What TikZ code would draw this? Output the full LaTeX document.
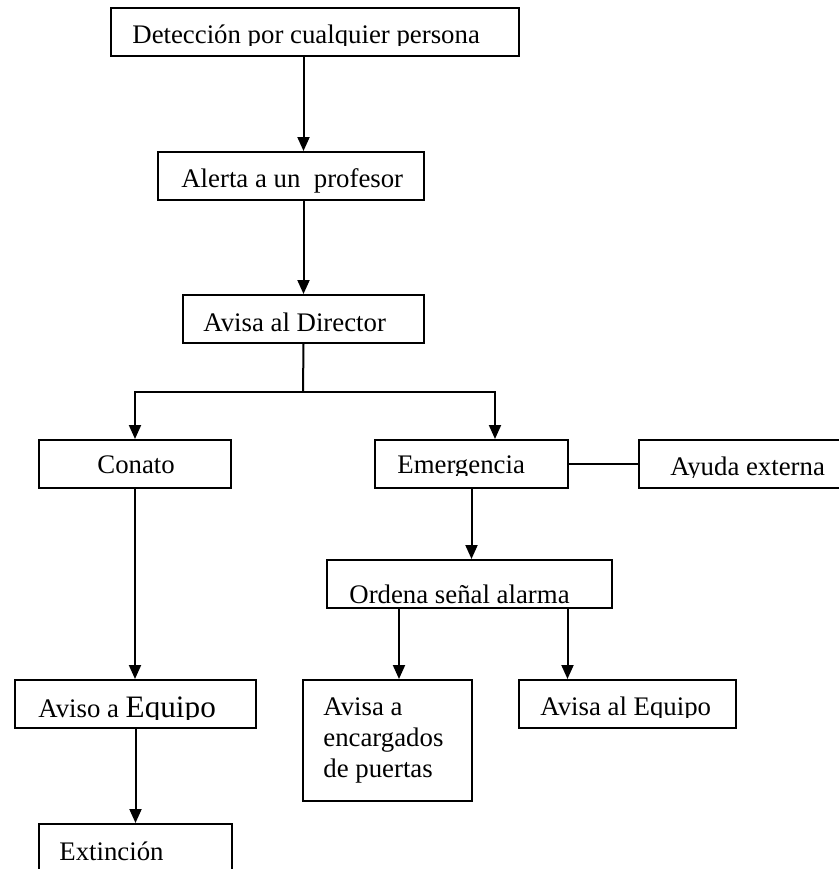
\documentclass[tikz,border=0pt]{standalone}
\usepackage{fontspec}
\setmainfont{Liberation Serif}
\usetikzlibrary{arrows.meta}
\usetikzlibrary{positioning}

\tikzset{
  box/.style={draw, line width=1pt, inner sep=0pt, minimum height=24pt},
  lbl/.style={inner sep=0pt, anchor=base west, font=\fontsize{13.4}{15.5}\selectfont},
  arr/.style={line width=1pt, -{Triangle[length=7pt,width=6pt]}},
  link/.style={line width=1pt},
}

% label whose descenders are cut off at the baseline
\newcommand{\cutlabel}[4]{%
  \begin{scope}
    \clip (#2-5,#3-40) rectangle (#2+420,#3+2);
    \node[lbl] (#1) at (#2,#3) {#4};
  \end{scope}}

\begin{document}
\begin{tikzpicture}[x=0.5pt, y=-0.5pt]
    \useasboundingbox (0,0) rectangle (839,869);
    \clip (0,0) rectangle (839,869);

    \node[box, minimum width=204pt] (detect) at (315,32) {};
    \node[box, minimum width=133pt] (alert) at (291,176) {};
    \node[box, minimum width=120.5pt] (director) at (303.5,319) {};
    \node[box, minimum width=96pt] (conato) at (135,464) {};
    \node[box, minimum width=96.5pt] (emerg) at (471.5,464) {};
    \node[box, minimum width=110.5pt] (ayuda) at (749.5,464) {};
    \node[box, minimum width=142.5pt] (ordena) at (469.5,584) {};
    \node[box, minimum width=120.5pt] (avisoeq) at (135.5,704) {};
    \node[box, minimum width=84.5pt, minimum height=60.5pt] (puertas) at (387.5,740.5) {};
    \node[box, minimum width=108.5pt] (avisaeq) at (627.5,704) {};
    \node[box, minimum width=96.5pt, minimum height=38pt] (extin) at (135.5,862) {};

    \cutlabel{detect-t}{132}{43}{Detección por cualquier persona}
    \node[lbl] (alert-t) at (181,187) {Alerta a un\ \ profesor};
    \node[lbl] (director-t) at (203,331) {Avisa al Director};
    \node[lbl] (conato-t) at (97,473) {Conato};
    \cutlabel{emerg-t}{397}{473}{Emergencia}
    \cutlabel{ayuda-t}{670}{475}{Ayuda externa}
    \node[lbl] (ordena-t) at (349,603) {Ordena señal alarma};
    \cutlabel{avisoeq-t}{38}{717}{Aviso a {\fontsize{15.6}{18}\selectfont Equipo}}
    \node[lbl, align=left] (puertas-t) at (323,777) {Avisa a\\encargados\\de puertas};
    \cutlabel{avisaeq-t}{540}{715}{Avisa al Equipo}
    \node[lbl] (extin-t) at (59,860) {Extinción};

    \coordinate (bus) at (303,392);

    \draw[arr] (detect.south -| director) -- (alert.north -| director);
    \draw[arr] (alert.south -| director) -- (director.north);
    \draw[link] (director.south) -- (bus);
    \draw[arr] (bus) -| (conato.north);
    \draw[arr] (bus) -| ([xshift=11.75pt]emerg.north);
    \draw[link] (emerg.east) -- (ayuda.west);
    \draw[arr] (emerg.south) -- (emerg.south |- ordena.north);
    \draw[arr] ([xshift=5.75pt]puertas.north |- ordena.south) -- ([xshift=5.75pt]puertas.north);
    \draw[arr] ([xshift=-30pt]avisaeq.north |- ordena.south) -- ([xshift=-30pt]avisaeq.north);
    \draw[arr] (conato.south) -- (conato.south |- avisoeq.north);
    \draw[arr] (avisoeq.south) -- (avisoeq.south |- extin.north);
  \end{tikzpicture}
\end{document}
